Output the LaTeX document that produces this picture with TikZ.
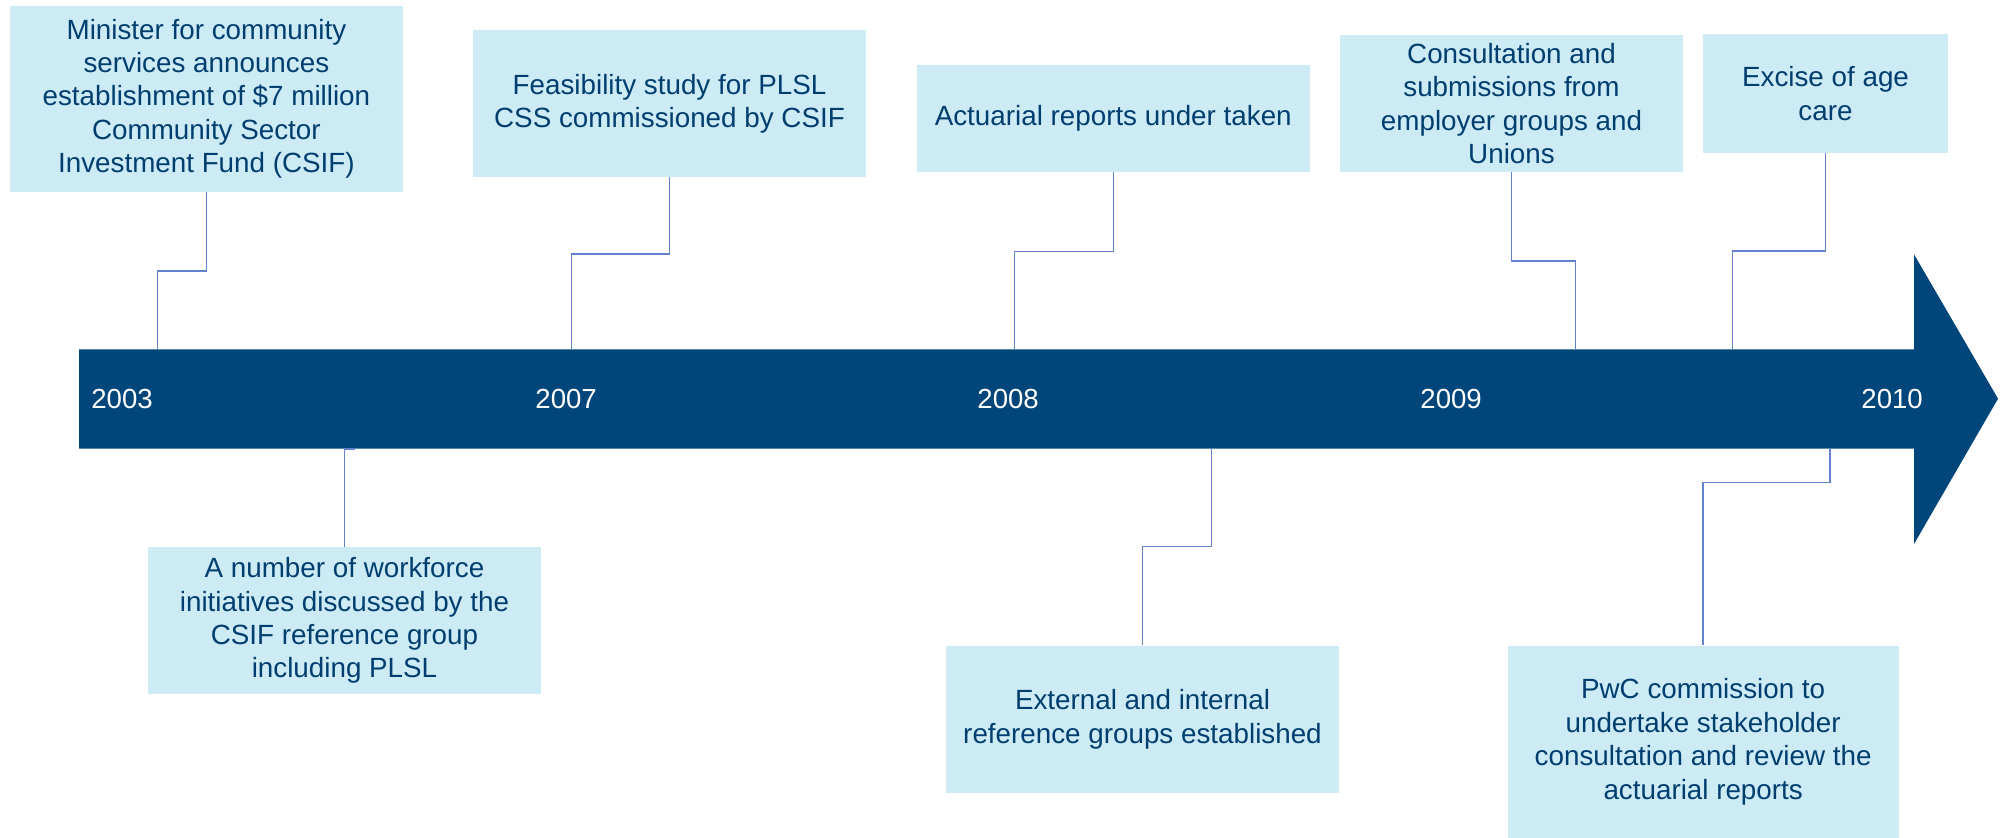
\documentclass[tikz,border=0pt]{standalone}
\usepackage{fontspec}
\setmainfont{Liberation Sans}
\definecolor{barblue}{RGB}{0,70,122}
\definecolor{boxfill}{RGB}{205,235,245}
\definecolor{boxtext}{RGB}{0,62,112}
\definecolor{connblue}{RGB}{98,130,204}
\tikzset{
  evt/.style={fill=boxfill, text=boxtext, inner sep=0pt, align=center,
    font=\fontsize{13.9}{16.7}\selectfont},
  conn/.style={draw=connblue, line width=0.7pt},
  year/.style={text=white, inner sep=0pt, anchor=base west,
    font=\fontsize{13.8}{16}\selectfont}
}
\begin{document}
\begin{tikzpicture}[x=0.5pt,y=-0.5pt]
\useasboundingbox (0,0) rectangle (2002,838);
% timeline arrow
\fill[barblue] (79,349.3) -- (1914,349.3) -- (1914,254.3) -- (1998,398.7)
  -- (1914,544) -- (1914,448.7) -- (79,448.7) -- cycle;
\node[year] (y03) at (91,408.5) {2003};
\node[year] (y07) at (535,408.5) {2007};
\node[year] (y08) at (977,408.5) {2008};
\node[year] (y09) at (1420,408.5) {2009};
\node[year] (y10) at (1861,408.5) {2010};
% event boxes
\node[evt, minimum width=196.6pt, minimum height=93pt] (b1) at (206.4,98.7)
  {Minister for community\\services announces\\establishment of \$7 million\\Community Sector\\Investment Fund (CSIF)};
\node[evt, minimum width=196.5pt, minimum height=73.35pt] (b2) at (669.5,103.65)
  {Feasibility study for PLSL\\CSS commissioned by CSIF};
\node[evt, minimum width=196.75pt, minimum height=53.5pt] (b3) at (1113.25,118.5)
  {Actuarial reports under taken};
\node[evt, minimum width=171.5pt, minimum height=68.35pt] (b4) at (1511.5,103.65)
  {Consultation and\\submissions from\\employer groups and\\Unions};
\node[evt, minimum width=122.5pt, minimum height=59.2pt] (b5) at (1825.5,93.5)
  {Excise of age\\care};
\node[evt, minimum width=196.5pt, minimum height=73.35pt] (b6) at (344.5,620.65)
  {A number of workforce\\initiatives discussed by the\\CSIF reference group\\including PLSL};
\node[evt, minimum width=196.5pt, minimum height=73.5pt] (b7) at (1142.5,719.2)
  {External and internal\\reference groups established};
\node[evt, minimum width=195.5pt, minimum height=96.15pt] (b8) at (1703.15,741.85)
  {PwC commission to\\undertake stakeholder\\consultation and review the\\actuarial reports};
% connector end points on the bar
\coordinate (e1) at (157.6,349.3);
\coordinate (e2) at (571.4,349.3);
\coordinate (e3) at (1014.7,349.3);
\coordinate (e4) at (1575.4,349.3);
\coordinate (e5) at (1732.6,349.3);
\coordinate (e6) at (355,449.2);
\coordinate (e7) at (1211.6,448.7);
\coordinate (e8) at (1830,448.7);
% connectors
\draw[conn] (b1.south) -- ++(0,79) -| (e1);
\draw[conn] (b2.south) -- ++(0,76.7) -| (e2);
\draw[conn] (b3.south) -- ++(0,79.3) -| (e3);
\draw[conn] (b4.south) -- ++(0,88.7) -| (e4);
\draw[conn] (b5.south) -- ++(0,98) -| (e5);
\draw[conn] (b6.north) |- (e6);
\draw[conn] (b7.north) -- ++(0,-98.7) -| (e7);
\draw[conn] (b8.north) -- ++(0,-162.7) -| (e8);
\end{tikzpicture}
\end{document}
